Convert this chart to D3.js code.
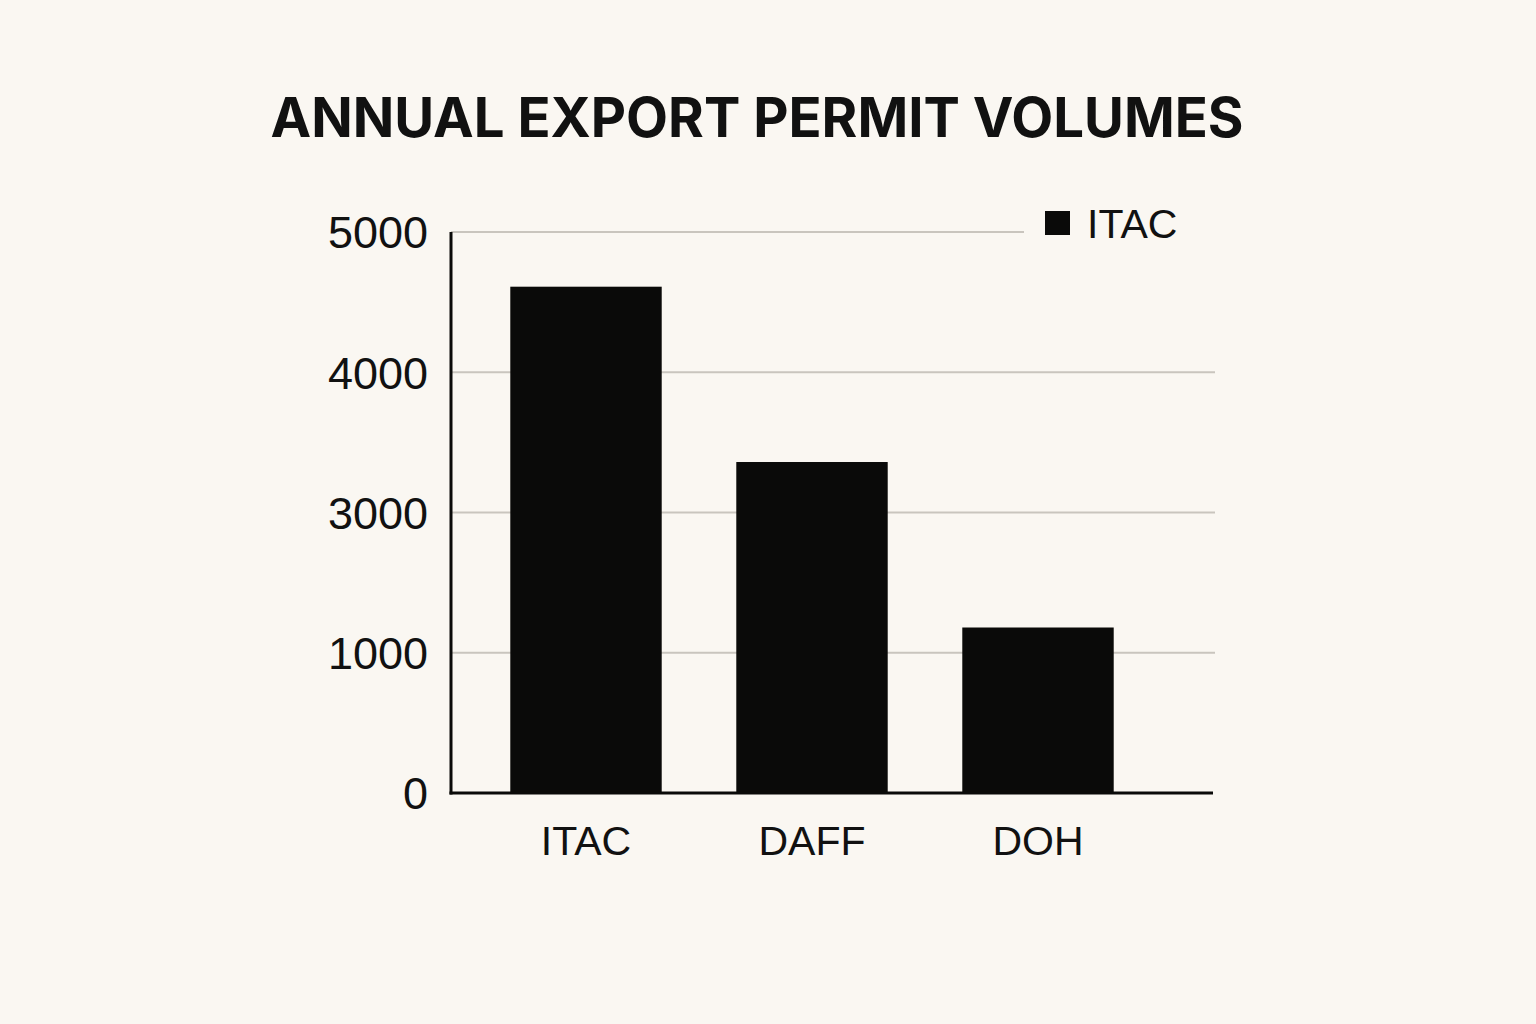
<!DOCTYPE html>
<html>
<head>
<meta charset="utf-8">
<script src="https://cdn.jsdelivr.net/npm/d3@7"></script>
<style>
  html, body { margin: 0; padding: 0; background: #faf7f2; }
  svg { display: block; }
  text { font-family: "Liberation Sans", Arial, sans-serif; fill: #111; }
</style>
</head>
<body>
<svg id="chart" width="1536" height="1024"></svg>
<script>
const title = "ANNUAL EXPORT PERMIT VOLUMES";
const categories = ["ITAC", "DAFF", "DOH"];
const values = [4610, 3360, 1360];
const seriesName = "ITAC";
const tickValues = [0, 1000, 3000, 4000, 5000];
const tickLabels = ["0", "1000", "3000", "4000", "5000"];

const W = 1536, H = 1024;
const margin = { left: 451, right: 323, top: 232, bottom: 231 };
const plotW = W - margin.left - margin.right;
const plotH = H - margin.top - margin.bottom;

const svg = d3.select("#chart");
svg.append("rect").attr("width", W).attr("height", H).attr("fill", "#faf7f2");

svg.append("text")
  .attr("x", 757).attr("y", 137)
  .attr("text-anchor", "middle")
  .style("font-family", "Inter, 'Liberation Sans', sans-serif")
  .style("font-weight", 700)
  .style("font-size", "54.5px")
  .text(title);

const g = svg.append("g").attr("transform", `translate(${margin.left},${margin.top})`);

// tick labels are evenly spaced in the reference
const y = d3.scaleLinear()
  .domain(tickValues)
  .range(tickValues.map((d, i) => plotH - i * plotH / (tickValues.length - 1)));

const x = d3.scaleBand()
  .domain(categories)
  .range([22, plotW - 62])
  .paddingInner(0.33)
  .paddingOuter(0.165);

// gridlines
g.append("g")
  .selectAll("line")
  .data(tickValues.filter(d => d !== 0))
  .join("line")
  .attr("x1", 0).attr("x2", plotW + 2)
  .attr("y1", d => y(d)).attr("y2", d => y(d))
  .attr("stroke", "#c9c5be").attr("stroke-width", 2);

// y tick labels via axis
const yAxis = d3.axisLeft(y).tickValues(tickValues)
  .tickFormat((d, i) => tickLabels[i]).tickSize(0).tickPadding(23);
const yg = g.append("g").call(yAxis);
yg.select(".domain").remove();
yg.selectAll("text").style("font-size", "45px").attr("fill", "#111")
  .style("font-family", "'Liberation Sans', Arial, sans-serif").attr("dy", "0.35em");

// bars
g.append("g")
  .selectAll("rect")
  .data(categories.map((c, i) => ({ c, v: values[i] })))
  .join("rect")
  .attr("x", d => x(d.c))
  .attr("width", x.bandwidth())
  .attr("y", d => y(d.v))
  .attr("height", d => plotH - y(d.v))
  .attr("fill", "#0a0a09");

// x axis labels
const xAxis = d3.axisBottom(x).tickSize(0).tickPadding(62);
const xg = g.append("g").attr("transform", `translate(0,${plotH})`).call(xAxis);
xg.select(".domain").remove();
xg.selectAll("text").style("font-size", "41px").attr("fill", "#111")
  .style("font-family", "'Liberation Sans', Arial, sans-serif").attr("dy", "0");

// axis lines
g.append("line").attr("x1", 0).attr("x2", 0).attr("y1", 0).attr("y2", plotH + 1.5)
  .attr("stroke", "#0a0a09").attr("stroke-width", 3);
g.append("line").attr("x1", -1.5).attr("x2", plotW).attr("y1", plotH).attr("y2", plotH)
  .attr("stroke", "#0a0a09").attr("stroke-width", 3);

// legend
const lg = svg.append("g").attr("transform", "translate(1024,200)");
lg.append("rect").attr("x", 0).attr("y", 0).attr("width", 195).attr("height", 46).attr("fill", "#faf7f2");
lg.append("rect").attr("x", 21).attr("y", 11).attr("width", 25).attr("height", 24).attr("fill", "#0a0a09");
lg.append("text").attr("x", 63).attr("y", 38).style("font-size", "41px").text(seriesName);
</script>
</body>
</html>
